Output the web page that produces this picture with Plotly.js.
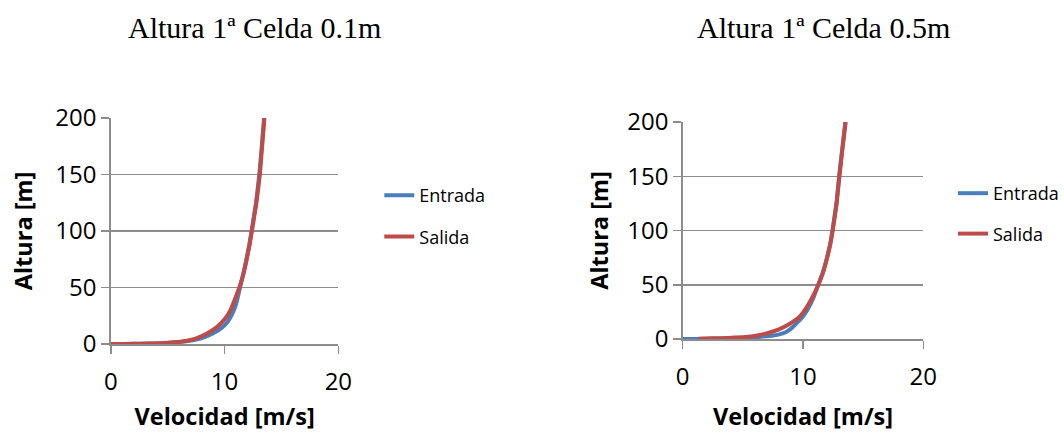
<!DOCTYPE html>
<html>
<head>
<meta charset="utf-8">
<script src="https://cdn.plot.ly/plotly-3.0.1.min.js"></script>
<style>html,body{margin:0;padding:0;background:#fff;}#chart{width:1064px;height:432px;}</style>
</head>
<body>
<div id="chart"></div>
<script>
// Left chart: Altura 1ª Celda 0.1m
const leftEntradaVel = [0, 1.2, 2.6, 3.7, 4.9, 6.2, 7.2, 7.8, 8.6, 9.3, 9.65, 10.0, 10.3, 10.55, 10.78, 11.0, 11.18, 11.32, 11.5, 11.65, 11.92, 12.17, 12.37, 12.76, 13.05, 13.27, 13.47];
const leftEntradaAlt = [0, 0.1, 0.3, 0.5, 1, 2, 3.4, 4.5, 7.5, 11.2, 13.6, 16.6, 20, 24.2, 29, 35, 42, 48.5, 56, 62, 75, 88, 100, 125, 150, 175, 200];
const leftSalidaVel = [0, 1.4, 2.8, 3.9, 5.0, 6.3, 7.2, 7.8, 8.5, 9.2, 9.8, 10.3, 10.65, 11.0, 11.3, 11.65, 11.95, 12.2, 12.4, 12.8, 13.1, 13.3, 13.5];
const leftSalidaAlt = [0, 0.1, 0.3, 0.5, 1, 2.3, 4, 6.2, 9.5, 14, 19.5, 26, 33, 42, 50, 62, 75, 88, 100, 125, 150, 175, 200];
// Right chart: Altura 1ª Celda 0.5m
const rightEntradaVel = [0, 1.3, 2.8, 4.3, 5.6, 6.7, 7.4, 7.95, 8.6, 9.1, 9.6, 10.05, 10.43, 10.85, 11.22, 11.45, 11.65, 11.95, 12.23, 12.45, 12.78, 13.0, 13.26, 13.52];
const rightEntradaAlt = [0, 0.05, 0.25, 0.6, 1.2, 2.2, 3.0, 4, 6.5, 10.5, 16, 21.5, 28, 37.5, 48.5, 55.5, 61, 73, 86, 100, 125, 150, 175, 200];
const rightSalidaVel = [1.3, 2.5, 3.8, 5.2, 6.2, 7.1, 7.95, 8.8, 9.6, 10.05, 10.43, 10.85, 11.28, 11.65, 11.97, 12.25, 12.47, 12.8, 13.03, 13.28, 13.55];
const rightSalidaAlt = [0.3, 0.6, 1.0, 1.8, 3.3, 5.5, 8.6, 13.3, 19.3, 25, 31.6, 40, 50, 61, 73, 86, 100, 125, 150, 175, 200];

const titles = ['Altura 1ª Celda 0.1m', 'Altura 1ª Celda 0.5m'];
const seriesNames = ['Entrada', 'Salida'];
const xTitle = 'Velocidad [m/s]';
const yTitle = 'Altura [m]';

const blue = '#4a7ebb', red = '#be4b48';
const gridCol = '#8c8c8c';
const sans = '"Open Sans", sans-serif';

function tr(x, y, name, color, xa, ya, leg, grp) {
  return {x: x, y: y, name: name, mode: 'lines', line: {color: color, width: 4, shape: 'spline', smoothing: 0.3},
    xaxis: xa, yaxis: ya, legend: leg, legendgroup: grp};
}
const traces = [
  tr(leftEntradaVel, leftEntradaAlt, seriesNames[0], blue, 'x', 'y', 'legend', 'a'),
  tr(leftSalidaVel, leftSalidaAlt, seriesNames[1], red, 'x', 'y', 'legend', 'b'),
  tr(rightEntradaVel, rightEntradaAlt, seriesNames[0], blue, 'x2', 'y2', 'legend2', 'c'),
  tr(rightSalidaVel, rightSalidaAlt, seriesNames[1], red, 'x2', 'y2', 'legend2', 'd')
];

function xax(domain, anchor, st) {
  return {
    domain: domain, anchor: anchor, range: [0, 20], dtick: 10, tick0: 0,
    showgrid: false, zeroline: false, showline: true, linecolor: gridCol, linewidth: 1.5,
    ticks: 'outside', ticklen: 8, tickwidth: 1.5, tickcolor: gridCol,
    ticklabelstandoff: 8,
    tickfont: {family: sans, size: 24, color: '#000'},
    title: {text: xTitle, font: {family: sans, size: 23.5, color: '#000', weight: 'bold'}, standoff: st},
    fixedrange: true
  };
}
function yax(domain, anchor, st) {
  return {
    domain: domain, anchor: anchor, range: [0, 200], dtick: 50, tick0: 0,
    showgrid: true, gridcolor: gridCol, gridwidth: 1.5, zeroline: false,
    showline: true, linecolor: gridCol, linewidth: 1.5,
    ticks: 'outside', ticklen: 8, tickwidth: 1.5, tickcolor: gridCol,
    tickfont: {family: sans, size: 24, color: '#000'},
    title: {text: yTitle, font: {family: sans, size: 23.5, color: '#000', weight: 'bold'}, standoff: st},
    fixedrange: true
  };
}

const W = 1064, H = 432;
const legFont = {family: sans, size: 18, color: '#000'};
const layout = {
  width: W, height: H, autosize: false,
  margin: {l: 0, r: 0, t: 0, b: 0},
  paper_bgcolor: '#fff', plot_bgcolor: '#fff',
  showlegend: true,
  xaxis: xax([111 / W, 339 / W], 'y', 28),
  yaxis: yax([(H - 344) / H, (H - 118) / H], 'x', 16),
  xaxis2: xax([684 / W, 925 / W], 'y2', 18),
  yaxis2: yax([(H - 339) / H, (H - 122) / H], 'x2', 12),
  legend: {x: 380 / W, y: (H - 177) / H, xanchor: 'left', yanchor: 'top', traceorder: 'grouped', tracegroupgap: 15,
    font: legFont, bgcolor: 'rgba(0,0,0,0)'},
  legend2: {x: 955 / W, y: (H - 175) / H, xanchor: 'left', yanchor: 'top', traceorder: 'grouped', tracegroupgap: 14,
    font: legFont, bgcolor: 'rgba(0,0,0,0)'},
  annotations: [
    {text: titles[0], x: 255 / W, y: (H - 28) / H, xref: 'paper', yref: 'paper', xanchor: 'center', yanchor: 'middle', showarrow: false,
      font: {family: '"Liberation Serif", serif', size: 30, color: '#000'}},
    {text: titles[1], x: 825 / W, y: (H - 28) / H, xref: 'paper', yref: 'paper', xanchor: 'center', yanchor: 'middle', showarrow: false,
      font: {family: '"Liberation Serif", serif', size: 30, color: '#000'}}
  ]
};

Plotly.newPlot('chart', traces, layout, {staticPlot: true, displayModeBar: false});
</script>
</body>
</html>
